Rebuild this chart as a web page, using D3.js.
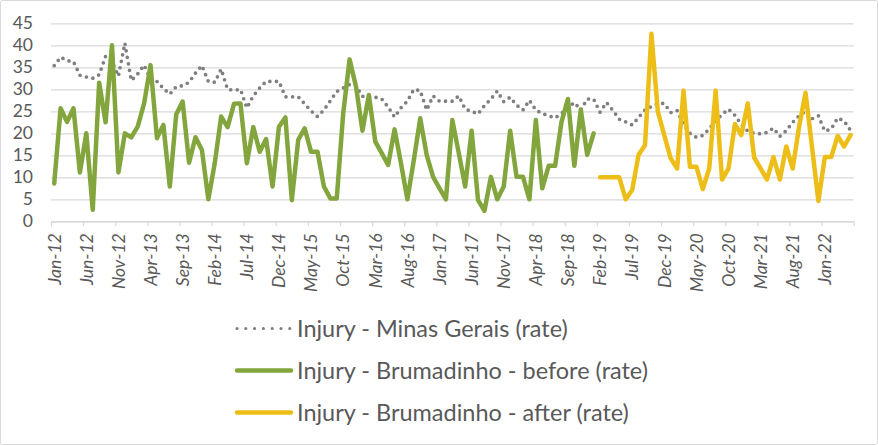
<!DOCTYPE html>
<html><head><meta charset="utf-8">
<script src="https://cdn.jsdelivr.net/npm/d3@7"></script>
<style>body{margin:0;background:#fff} svg{display:block}</style>
</head><body>
<svg id="c" width="878" height="445"></svg>
<script>
// ---------- data ----------
const tickLabels = ["Jan-12","Jun-12","Nov-12","Apr-13","Sep-13","Feb-14","Jul-14","Dec-14","May-15","Oct-15","Mar-16","Aug-16","Jan-17","Jun-17","Nov-17","Apr-18","Sep-18","Feb-19","Jul-19","Dec-19","May-20","Oct-20","Mar-21","Aug-21","Jan-22"];
const yTicks = [0,5,10,15,20,25,30,35,40,45];
const seriesNames = ["Injury - Minas Gerais (rate)","Injury - Brumadinho - before (rate)","Injury - Brumadinho - after (rate)"];
// Monthly, Jan-12 .. May-22 (125 months)
const minasGerais = [35.4,37.3,36.5,36.3,33.2,32.8,32.5,33.3,37.5,36.3,33.0,40.5,32.0,33.5,35.5,32.3,31.8,30.2,28.9,30.6,
  30.8,31.6,33.7,35.4,31.8,31.6,34.6,30.0,29.8,30.0,25.8,28.5,30.3,31.8,31.8,31.8,28.3,28.3,28.3,26.7,
  25.1,23.8,25.3,27.4,29.5,30.3,31.1,30.8,28.4,28.3,28.2,27.8,26.0,23.7,25.8,27.3,30.0,29.7,25.3,28.5,
  27.3,27.3,27.3,28.5,25.5,25.0,24.4,26.3,27.8,29.6,27.2,28.2,26.4,25.3,27.5,25.3,24.5,24.0,23.5,24.5,
  25.8,27.0,25.3,27.8,27.8,24.8,27.0,25.2,23.2,22.6,21.9,23.6,25.3,26.1,26.8,26.8,24.7,25.2,22.0,20.0,
  19.1,19.5,21.0,22.8,24.3,25.5,24.1,22.0,20.5,20.0,19.9,20.2,21.2,19.3,20.6,22.5,24.0,25.0,23.3,24.0,
  20.5,21.0,23.5,22.8,20.7];
// Jan-12 .. Jan-19 (85 months)
const brumBefore = [8.6,25.7,22.6,25.7,11.1,20.0,2.6,31.5,22.5,40.0,11.1,20.0,19.1,21.5,26.8,35.5,18.9,21.9,7.9,24.3,
  27.2,13.3,19.1,16.2,5.0,13.2,23.8,21.4,26.7,26.8,13.2,21.4,15.8,18.7,7.9,21.5,23.6,4.8,18.5,21.1,
  15.8,15.8,7.9,5.2,5.2,24.5,36.8,30.6,20.6,28.7,18.1,15.5,12.8,20.9,13.2,5.0,13.9,23.4,15.1,10.1,
  7.5,5.0,23.0,15.5,7.9,20.6,4.8,2.4,10.1,5.0,7.9,20.6,10.1,10.1,5.0,23.0,7.5,12.6,12.6,22.6,
  27.8,12.6,25.4,15.1,20.0];
// Feb-19 .. May-22 (40 months)
const brumAfter = [10.0,10.0,10.0,10.0,5.0,7.1,15.1,17.3,42.6,24.9,19.6,14.3,12.0,29.7,12.4,12.4,7.3,12.0,29.7,9.5,
  12.0,22.1,19.6,26.8,14.5,12.0,9.5,14.6,9.5,17.0,12.0,21.5,29.2,17.0,4.6,14.6,14.6,19.4,17.0,19.6];

// ---------- chart ----------
const W = 878, H = 445;
const L = 51, R = 853.7, T = 23.3, B = 221.3;
const txt = "#595959", grid = "#d9d9d9";
const colGray = "#7f7f7f", colGreen = "#82A63D", colYellow = "#EDBE17";
const font = "Lato, 'Open Sans', sans-serif";

const months = d3.timeMonth.range(new Date(2012,0,1), new Date(2022,5,1));
const svg = d3.select("#c");
svg.append("rect").attr("x",0.5).attr("y",0.5).attr("width",W-1).attr("height",H-1)
  .attr("fill","#fff").attr("stroke",grid).attr("rx",2);

const x = d3.scaleBand().domain(months).range([L,R]).paddingInner(0).paddingOuter(0);
const xLin = d3.scaleLinear().domain([0, months.length]).range([L,R]);
const y = d3.scaleLinear().domain([0,45]).range([B,T]);
const cx = d => x(d) + x.bandwidth()/2;

// gridlines + y labels
const gy = svg.append("g").attr("transform",`translate(${L},0)`)
  .call(d3.axisLeft(y).tickValues(yTicks).tickSize(-(R-L)).tickPadding(18).tickFormat(d3.format("d")));
gy.select(".domain").remove();
gy.selectAll(".tick line").attr("stroke",grid).attr("stroke-width",1.2);
gy.selectAll(".tick text").attr("fill",txt).style("font-family",font).style("font-size","17.5px");

// x axis line and tick marks (between categories)
const gx = svg.append("g").attr("transform",`translate(0,${B})`)
  .call(d3.axisBottom(xLin).tickValues(d3.range(0, months.length+1, 5)).tickSize(5).tickSizeOuter(0).tickFormat(""));
gx.select(".domain").attr("stroke",grid).attr("stroke-width",1.2);
gx.selectAll(".tick line").attr("stroke",grid).attr("stroke-width",1.2);

// x labels at category centres
const labMonths = months.filter((d,i)=> i%5===0);
const gl = svg.append("g").attr("transform",`translate(0,${B})`)
  .call(d3.axisBottom(x).tickValues(labMonths).tickSize(0).tickFormat((d,i)=>tickLabels[i]));
gl.select(".domain").remove();
gl.selectAll(".tick text")
  .attr("transform","rotate(-90)").attr("text-anchor","end")
  .attr("x",-12).attr("y",0).attr("dy","0.36em")
  .attr("fill",txt).style("font-family",font).style("font-size","17.5px").style("font-style","italic");

// series
const line = d3.line().x(d=>cx(d.m)).y(d=>y(d.v)).curve(d3.curveLinear);
const gData = minasGerais.map((v,i)=>({m:months[i],v}));
const bData = brumBefore.map((v,i)=>({m:months[i],v}));
const aData = brumAfter.map((v,i)=>({m:months[brumBefore.length+i],v}));

svg.append("path").datum(gData).attr("d",line).attr("fill","none")
  .attr("stroke",colGray).attr("stroke-width",3.7).attr("stroke-linecap","round")
  .attr("stroke-dasharray","0 6.6");
svg.append("path").datum(bData).attr("d",line).attr("fill","none")
  .attr("stroke",colGreen).attr("stroke-width",4.5).attr("stroke-linejoin","round").attr("stroke-linecap","round");
svg.append("path").datum(aData).attr("d",line).attr("fill","none")
  .attr("stroke",colYellow).attr("stroke-width",4.5).attr("stroke-linejoin","round").attr("stroke-linecap","round");

// legend
const legY = [328.5, 370.5, 412.5];
const lg = svg.append("g");
seriesNames.forEach((name,i)=>{
  const ln = lg.append("line").attr("x1",237).attr("x2",291).attr("y1",legY[i]).attr("y2",legY[i])
    .attr("stroke",[colGray,colGreen,colYellow][i]).attr("stroke-linecap","round");
  if(i===0) ln.attr("stroke-width",3.2).attr("stroke-dasharray","0 8.8");
  else ln.attr("stroke-width",4.5);
  lg.append("text").attr("class","legt").attr("x",297).attr("y",legY[i]).attr("dy","0.35em")
    .attr("fill",txt).style("font-family",font).style("font-size","22px").text(name);
});
// fit legend font to reference text width
const t0 = lg.select(".legt").node();
const w0 = t0.getComputedTextLength();
const fs = 22*271/w0;
lg.selectAll(".legt").style("font-size", fs.toFixed(2)+"px");
</script>
</body></html>
